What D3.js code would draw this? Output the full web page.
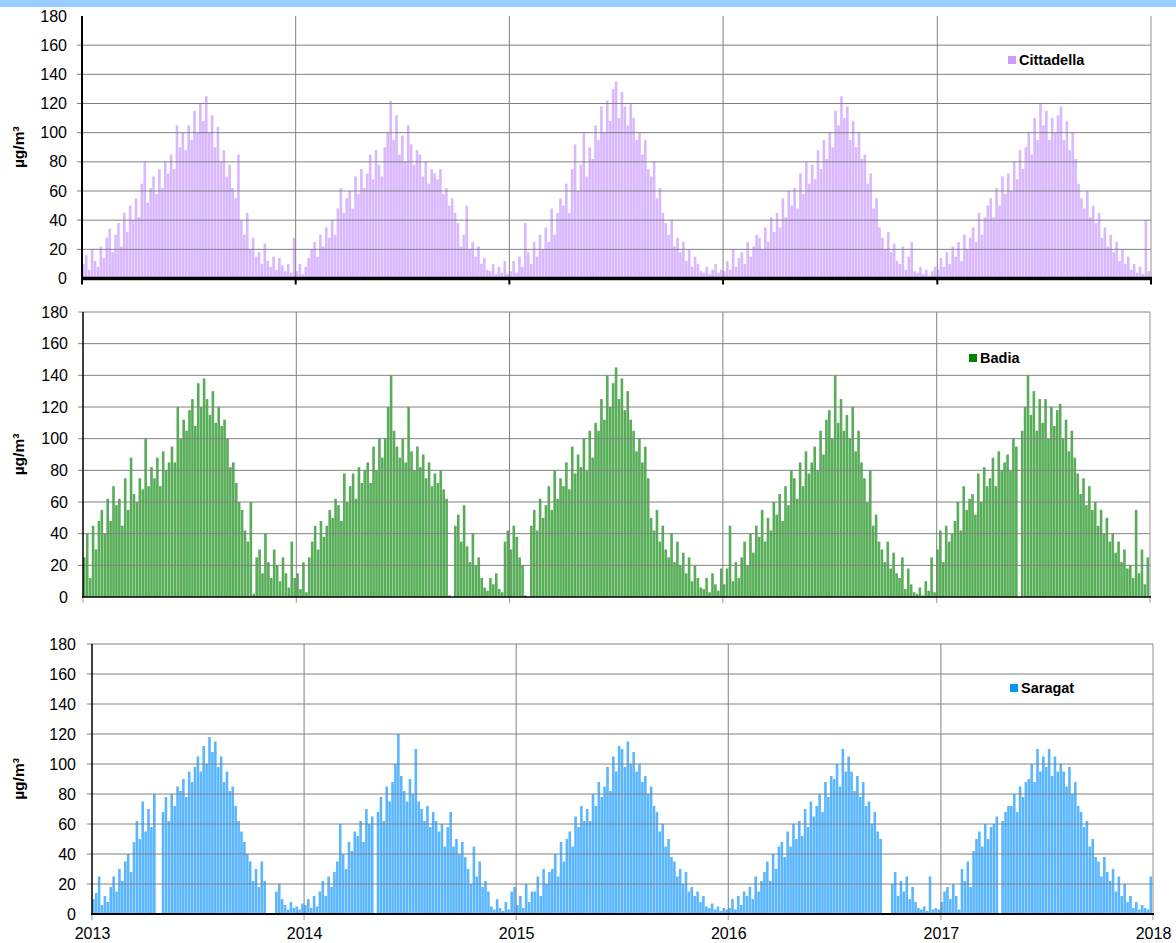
<!DOCTYPE html>
<html>
<head>
<meta charset="utf-8">
<script src="https://cdn.jsdelivr.net/npm/d3@7"></script>
<style>
  html, body { margin: 0; padding: 0; background: #fff; }
  svg { display: block; }
  text { font-family: Arial, "Liberation Sans", sans-serif; }
</style>
</head>
<body>
<script>
// Daily ozone maxima summarised in 5-day steps, from 1 Jan 2013 (73 values per year)
const yearLabels = ["2013", "2014", "2015", "2016", "2017", "2018"];
const yTicks = [0, 20, 40, 60, 80, 100, 120, 140, 160, 180];
const stepDays = 5;

const cittadella = [
  // 2013
  10, 16, 6, 20, 12, 8, 22, 14, 28, 34, 18, 30, 38, 22, 45, 32, 50, 40,
  55, 42, 65, 80, 52, 62, 70, 58, 75, 62, 80, 72, 85, 75, 105, 90, 100, 88,
  105, 95, 115, 100, 120, 108, 125, 100, 112, 90, 104, 80, 88, 70, 78, 62, 55, 85,
  40, 30, 45, 20, 28, 15, 18, 10, 24, 12, 8, 15, 6, 14, 9, 5, 10, 4, 28,
  // 2014
  5, 10, 3, 8, 14, 20, 25, 15, 30, 22, 35, 28, 40, 30, 48, 62, 45, 55,
  60, 48, 70, 58, 75, 62, 72, 85, 68, 88, 78, 70, 90, 100, 122, 95, 112, 85,
  98, 80, 105, 92, 78, 88, 85, 70, 80, 65, 75, 72, 68, 75, 58, 62, 50, 55,
  45, 38, 22, 30, 50, 20, 25, 15, 22, 10, 14, 6, 5, 10, 3, 8, 4, 12, 3,
  // 2015
  5, 12, 4, 15, 8, 38, 18, 10, 25, 15, 30, 20, 35, 25, 48, 30, 45, 55,
  50, 65, 45, 75, 92, 60, 78, 100, 70, 90, 82, 105, 95, 118, 100, 122, 108, 130,
  135, 110, 128, 118, 105, 120, 110, 95, 100, 85, 95, 75, 70, 80, 55, 62, 45, 38,
  30, 40, 22, 28, 18, 25, 12, 20, 8, 15, 10, 5, 4, 8, 3, 6, 10, 4, 6,
  // 2016
  5, 12, 6, 20, 8, 14, 18, 10, 25, 15, 22, 30, 28, 20, 35, 25, 42, 32,
  45, 35, 55, 42, 60, 50, 62, 48, 72, 58, 80, 65, 78, 68, 88, 75, 95, 82,
  100, 90, 115, 105, 125, 110, 118, 95, 108, 90, 100, 82, 85, 65, 72, 48, 55, 35,
  28, 20, 32, 18, 24, 12, 10, 22, 6, 15, 25, 5, 4, 8, 3, 6, 2, 5, 8,
  // 2017
  6, 14, 8, 18, 10, 22, 15, 25, 12, 30, 20, 28, 35, 25, 45, 30, 42, 50,
  55, 42, 62, 50, 70, 58, 72, 60, 80, 68, 88, 75, 90, 100, 85, 110, 95, 120,
  105, 115, 95, 110, 100, 112, 118, 95, 108, 88, 100, 82, 65, 55, 48, 60, 42, 50,
  38, 45, 28, 35, 22, 30, 18, 25, 12, 20, 10, 15, 6, 10, 4, 8, 3, 40, 5
];

const badia = [
  // 2013
  25, 40, 12, 45, 30, 48, 55, 40, 62, 48, 70, 58, 62, 45, 75, 55, 88, 65,
  60, 75, 68, 100, 70, 82, 75, 88, 70, 92, 80, 85, 95, 85, 120, 100, 112, 105,
  118, 125, 108, 135, 120, 138, 125, 115, 130, 110, 120, 108, 112, 100, 82, 85, 72, 60,
  55, 42, 35, 60, 2, 25, 30, 15, 40, 22, 12, 30, 20, 10, 25, 15, 6, 35, 12,
  // 2014
  15, 5, 22, 3, 25, 35, 45, 30, 48, 38, 45, 55, 50, 62, 58, 48, 78, 60,
  70, 78, 62, 82, 72, 80, 85, 72, 95, 80, 100, 88, 100, 120, 140, 105, 95, 88,
  100, 85, 120, 92, 80, 95, 82, 90, 75, 85, 70, 78, 72, 80, 68, 62, 1, 0,
  45, 52, 35, 58, 32, 22, 40, 20, 25, 12, 6, 4, 12, 8, 15, 5, 3, 35, 42,
  // 2015
  30, 45, 38, 25, 20, 1, 0, 45, 55, 42, 62, 50, 58, 70, 55, 80, 62, 75,
  70, 85, 68, 95, 78, 90, 82, 100, 80, 105, 88, 110, 105, 125, 112, 140, 120, 135,
  145, 125, 138, 118, 130, 112, 105, 92, 100, 85, 95, 75, 50, 42, 55, 35, 45, 30,
  25, 40, 22, 35, 20, 28, 15, 25, 10, 20, 12, 6, 5, 12, 3, 15, 8, 4, 18,
  // 2016
  8, 18, 45, 10, 22, 12, 25, 35, 20, 40, 28, 45, 38, 55, 35, 50, 42, 60,
  52, 65, 48, 70, 58, 80, 75, 62, 85, 70, 92, 78, 85, 95, 80, 105, 90, 112,
  118, 100, 140, 110, 125, 105, 115, 100, 120, 92, 105, 85, 75, 60, 80, 45, 52, 35,
  30, 22, 35, 18, 28, 15, 12, 25, 5, 18, 8, 3, 2, 6, 1, 10, 4, 25, 3,
  // 2017
  30, 42, 22, 45, 35, 40, 48, 60, 42, 70, 55, 62, 65, 52, 78, 60, 82, 70,
  75, 88, 70, 92, 80, 85, 90, 80, 100, 95, 0, 105, 120, 140, 115, 130, 105, 125,
  110, 125, 100, 120, 108, 118, 122, 100, 112, 92, 105, 88, 78, 65, 75, 58, 70, 55,
  60, 45, 55, 40, 50, 35, 40, 28, 35, 22, 30, 18, 20, 12, 55, 15, 30, 8, 25
];

const saragat = [
  // 2013
  10, 14, 25, 6, 12, 8, 18, 25, 15, 30, 22, 35, 40, 28, 48, 62, 50, 75,
  55, 70, 58, 80, 0, 0, 68, 78, 62, 80, 72, 85, 82, 90, 78, 95, 88, 98,
  105, 95, 112, 100, 118, 108, 115, 98, 105, 88, 95, 82, 85, 72, 62, 55, 48, 40,
  35, 22, 30, 18, 35, 22, 0, 0, 0, 15, 20, 10, 6, 3, 8, 4, 5, 3, 7,
  // 2014
  6, 10, 4, 12, 5, 15, 22, 12, 25, 18, 28, 35, 60, 40, 30, 48, 42, 55,
  52, 62, 48, 70, 60, 65, 0, 68, 78, 62, 85, 75, 88, 100, 120, 92, 82, 75,
  90, 80, 110, 75, 70, 62, 72, 58, 68, 62, 55, 60, 45, 58, 68, 45, 50, 40,
  48, 38, 30, 20, 45, 25, 35, 18, 22, 15, 5, 3, 10, 4, 2, 8, 3, 15, 18,
  // 2015
  6, 12, 4, 20, 8, 15, 15, 25, 12, 30, 20, 28, 30, 40, 25, 48, 35, 50,
  55, 45, 65, 58, 72, 62, 70, 62, 80, 72, 88, 78, 85, 98, 82, 105, 95, 112,
  110, 98, 115, 100, 108, 95, 100, 88, 92, 80, 85, 72, 68, 55, 60, 45, 50, 38,
  35, 25, 30, 20, 28, 15, 18, 12, 15, 8, 12, 5, 4, 7, 3, 5, 2, 4, 3,
  // 2016
  4, 10, 3, 12, 6, 15, 12, 18, 10, 25, 15, 22, 28, 35, 22, 40, 30, 45,
  48, 38, 55, 45, 60, 50, 62, 52, 70, 58, 75, 65, 72, 80, 68, 88, 78, 92,
  90, 100, 85, 110, 95, 105, 95, 82, 92, 78, 88, 72, 75, 60, 68, 55, 50, 0,
  0, 0, 20, 28, 12, 22, 15, 25, 10, 18, 8, 4, 3, 5, 2, 25, 3, 4, 3,
  // 2017
  8, 15, 18, 10, 20, 12, 3, 30, 22, 35, 18, 42, 50, 55, 45, 60, 50, 58,
  60, 65, 0, 62, 68, 72, 72, 80, 68, 85, 78, 88, 90, 100, 88, 110, 95, 105,
  98, 110, 92, 105, 95, 100, 95, 85, 98, 80, 88, 72, 68, 58, 62, 45, 50, 38,
  35, 25, 38, 28, 22, 30, 15, 25, 12, 20, 8, 12, 4, 8, 3, 6, 4, 3, 25
];

const stationNames = ["Cittadella", "Badia", "Saragat"];

const W = 1176, H = 943;
const svg = d3.select("body").append("svg")
  .attr("width", W).attr("height", H);

// Banner strip along the top edge
svg.append("rect").attr("x", 0).attr("y", 0).attr("width", W).attr("height", 7)
  .attr("fill", "#99ccff");

const tStart = new Date(2013, 0, 1);
const tEnd = new Date(2018, 0, 1);
const yearDates = yearLabels.map(y => new Date(+y, 0, 1));

const panels = [
  { name: stationNames[0], values: cittadella, fill: "#d9b8ff", key: "#cc99ff",
    left: 82, right: 1151, top: 16, bottom: 278.5,
    axisW: 2, baseW: 3.5, tickColor: "#000", tickW: 2, topGrid: false,
    legendX: 1008, legendY: 64.5, labelPad: 15, showYears: false },
  { name: stationNames[1], values: badia, fill: "#58ae58", key: "#008000",
    left: 83, right: 1150, top: 312, bottom: 597,
    axisW: 1.5, baseW: 1.5, tickColor: "#999", tickW: 1, topGrid: true,
    legendX: 969, legendY: 362.5, labelPad: 15, showYears: false },
  { name: stationNames[2], values: saragat, fill: "#5ab7ff", key: "#0099ff",
    left: 92, right: 1153, top: 644, bottom: 914,
    axisW: 1.5, baseW: 2, tickColor: "#999", tickW: 1, topGrid: true,
    legendX: 1010, legendY: 692.5, labelPad: 16, showYears: true }
];

panels.forEach(p => {
  const g = svg.append("g");
  const x = d3.scaleTime().domain([tStart, tEnd]).range([p.left, p.right]);
  const y = d3.scaleLinear().domain([0, 180]).range([p.bottom, p.top]);

  // Bars, one per 5-day step
  const bars = p.values.map((v, i) => {
    const d0 = d3.timeDay.offset(tStart, i * stepDays);
    let d1 = d3.timeDay.offset(tStart, (i + 1) * stepDays);
    if (d1 > tEnd) d1 = tEnd;
    return { d0, d1, v };
  }).filter(d => d.d0 < tEnd);

  g.append("g").selectAll("rect").data(bars).join("rect")
    .attr("x", d => x(d.d0))
    .attr("width", d => Math.max(0.5, x(d.d1) - x(d.d0) - 0.3))
    .attr("y", d => y(d.v))
    .attr("height", d => y(0) - y(d.v))
    .attr("fill", p.fill);

  // Horizontal grid with short stubs left of the axis
  const gridTicks = yTicks.filter(t => t > 0 && (t < 180 || p.topGrid));
  g.append("g").selectAll("line").data(gridTicks).join("line")
    .attr("x1", p.left - 5).attr("x2", p.right)
    .attr("y1", d => y(d)).attr("y2", d => y(d))
    .attr("stroke", "#808080").attr("stroke-width", 1);

  // Vertical grid at year boundaries
  g.append("g").selectAll("line").data(yearDates.slice(1, -1)).join("line")
    .attr("x1", d => x(d)).attr("x2", d => x(d))
    .attr("y1", p.top).attr("y2", p.bottom)
    .attr("stroke", "#808080").attr("stroke-width", 1);

  // Right frame edge
  g.append("line")
    .attr("x1", p.right).attr("x2", p.right)
    .attr("y1", p.top).attr("y2", p.bottom)
    .attr("stroke", "#909090").attr("stroke-width", 1);

  // Y axis labels
  const yAxis = d3.axisLeft(y).tickValues(yTicks).tickSize(0).tickPadding(p.labelPad);
  const ya = g.append("g").attr("transform", `translate(${p.left},0)`).call(yAxis);
  ya.select(".domain").remove();
  ya.selectAll("text").attr("font-size", 16).attr("fill", "#000")
    .attr("font-family", "Arial, 'Liberation Sans', sans-serif");

  // Year ticks under the baseline
  g.append("g").selectAll("line").data(yearDates).join("line")
    .attr("x1", d => x(d)).attr("x2", d => x(d))
    .attr("y1", p.bottom).attr("y2", p.bottom + 6)
    .attr("stroke", p.tickColor).attr("stroke-width", p.tickW);

  // Axis lines
  g.append("line").attr("x1", p.left).attr("x2", p.left)
    .attr("y1", p.top).attr("y2", p.bottom)
    .attr("stroke", "#000").attr("stroke-width", p.axisW);
  g.append("line").attr("x1", p.left - 1).attr("x2", p.right + 1)
    .attr("y1", p.bottom).attr("y2", p.bottom)
    .attr("stroke", "#000").attr("stroke-width", p.baseW);

  if (p.showYears) {
    const xAxis = d3.axisBottom(x).tickValues(yearDates).tickSize(0).tickPadding(14)
      .tickFormat((d, i) => yearLabels[i]);
    const xa = g.append("g").attr("transform", `translate(0,${p.bottom})`).call(xAxis);
    xa.select(".domain").remove();
    xa.selectAll("text").attr("font-size", 16).attr("fill", "#000")
      .attr("font-family", "Arial, 'Liberation Sans', sans-serif");
  }

  // Unit title
  g.append("text")
    .attr("transform", `translate(24,${(p.top + p.bottom) / 2}) rotate(-90)`)
    .attr("text-anchor", "middle")
    .attr("font-size", 15.5).attr("font-weight", "bold")
    .text("µg/m³");

  // Legend
  g.append("rect").attr("x", p.legendX).attr("y", p.legendY - 8.5)
    .attr("width", 8).attr("height", 8).attr("fill", p.key);
  g.append("text").attr("x", p.legendX + 11).attr("y", p.legendY)
    .attr("font-size", 14.5).attr("font-weight", "bold").attr("fill", "#000")
    .text(p.name);
});
</script>
</body>
</html>
